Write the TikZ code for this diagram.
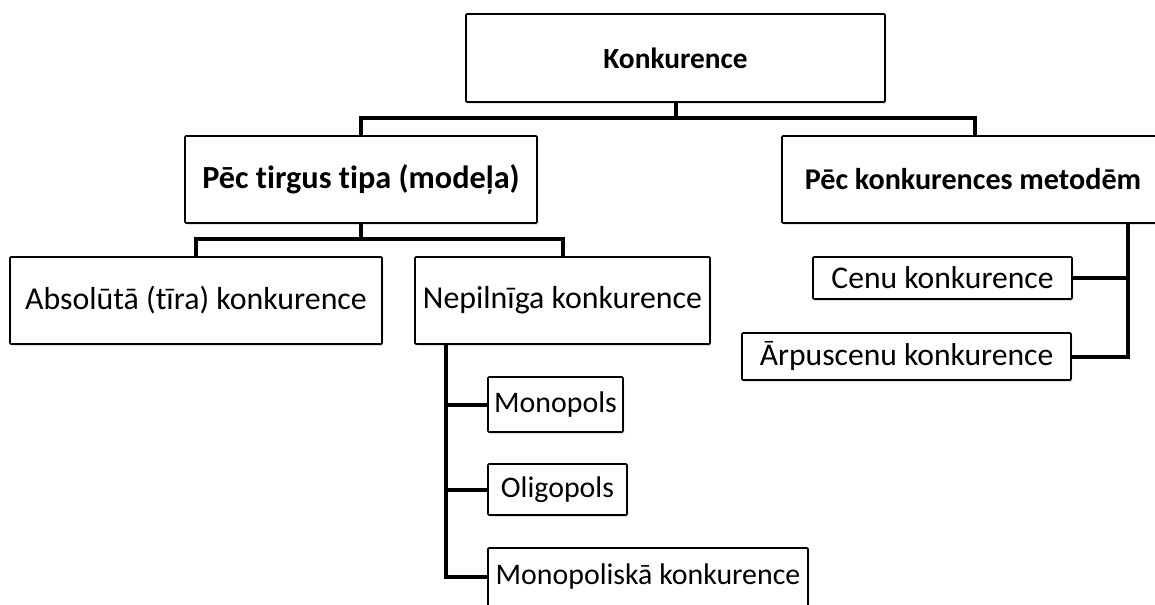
\documentclass[tikz,border=0pt]{standalone}
\usepackage{fontspec}
\setmainfont{Carlito}[Ligatures=NoCommon]
\usetikzlibrary{shadows}
\begin{document}
\begin{tikzpicture}[x=0.75pt,y=-0.75pt,
  box/.style={draw=black, line width=1.2pt, fill=white, rounded corners=0.8pt,
    inner sep=0pt, anchor=center,
    drop shadow={opacity=0.22, shadow xshift=1pt, shadow yshift=-1.6pt}},
  headtxt/.style={font=\bfseries\fontsize{#1}{1.15em}\selectfont},
  bodytxt/.style={font=\fontsize{#1}{1.15em}\selectfont},
  link/.style={draw=black, line width=3pt}]
\useasboundingbox (0,0) rectangle (1155,604);
\clip (0,0) rectangle (1155,604);

% top level
\node[box, headtxt=22pt, minimum width=419*0.75pt, minimum height=88*0.75pt] (konk) at (675.5,58) {Konkurence};

% second level
\node[box, headtxt=24.2pt, minimum width=352*0.75pt, minimum height=87*0.75pt] (tirg) at (361,179.5) {Pēc tirgus tipa (modeļa)};
\node[box, headtxt=22.6pt, minimum width=382*0.75pt, minimum height=87*0.75pt] (metod) at (973,179.5) {Pēc konkurences metodēm};
\coordinate (metodtop) at (975,136);

% market types
\node[box, bodytxt=23.9pt, minimum width=372*0.75pt, minimum height=87*0.75pt] (abs) at (196,300.5) {Absolūtā (tīra) konkurence};
\node[box, bodytxt=23.9pt, minimum width=295*0.75pt, minimum height=87*0.75pt] (nep) at (562.5,300.5) {Nepilnīga konkurence};

% imperfect competition forms
\node[box, bodytxt=22.4pt, minimum width=135*0.75pt, minimum height=55*0.75pt] (mono) at (555.5,404.5) {Monopols};
\node[box, bodytxt=22.4pt, minimum width=139*0.75pt, minimum height=51*0.75pt] (olig) at (557.5,489.5) {Oligopols};
\node[box, bodytxt=22.4pt, minimum width=320*0.75pt, minimum height=58*0.75pt] (mk) at (648,577) {Monopoliskā konkurence};

% competition methods
\node[box, bodytxt=23.7pt, minimum width=259*0.75pt, minimum height=42*0.75pt] (cenu) at (942.5,278) {Cenu konkurence};
\node[box, bodytxt=23.7pt, minimum width=329*0.75pt, minimum height=47*0.75pt] (arp) at (906.5,356.5) {Ārpuscenu konkurence};

% connectors
\coordinate (bus1) at (0,118);
\coordinate (bus2) at (0,239);
\coordinate (railL) at (446,0);
\coordinate (railR) at (1128,0);

\draw[link] (konk.south) -- (konk.south |- bus1);
\draw[link] (tirg.north) -- (tirg.north |- bus1) -- (metodtop |- bus1) -- (metodtop);

\draw[link] (tirg.south) -- (tirg.south |- bus2);
\draw[link] (abs.north) -- (abs.north |- bus2) -- (nep.north |- bus2) -- (nep.north);

\draw[link] (railL |- nep.south) -- (railL |- mk.west) -- (mk.west);
\draw[link] (railL |- mono.west) -- (mono.west);
\draw[link] (railL |- olig.west) -- (olig.west);

\draw[link] (railR |- metod.south) -- (railR |- arp.east) -- (arp.east);
\draw[link] (railR |- cenu.east) -- (cenu.east);
\end{tikzpicture}
\end{document}
